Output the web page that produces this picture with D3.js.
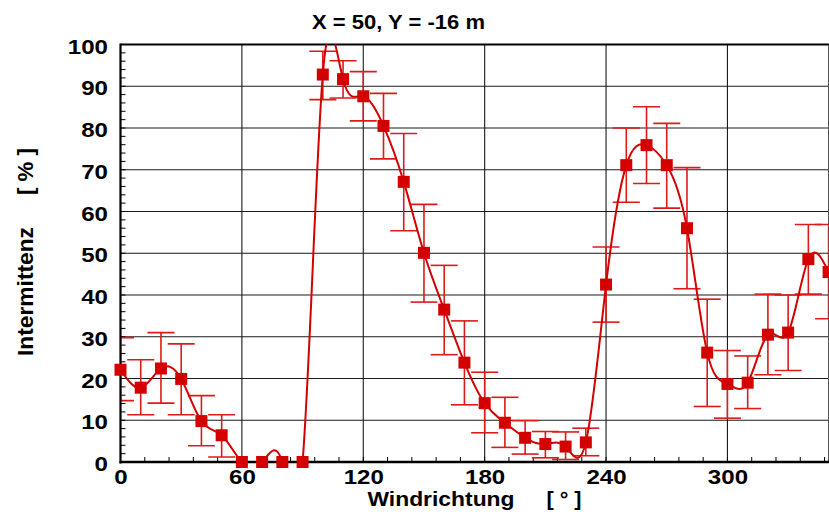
<!DOCTYPE html>
<html><head><meta charset="utf-8">
<script src="https://cdn.jsdelivr.net/npm/d3@7"></script>
<style>
body{margin:0;background:#fff}
svg{display:block;font-family:"Liberation Sans",Arial,Helvetica,sans-serif;font-weight:bold}
</style>
</head><body>
<svg id="chart" width="829" height="515"></svg>
<script>
// ---------- data ----------
const directions = [0,10,20,30,40,50,60,70,80,90,100,110,120,130,140,150,160,170,180,190,200,210,220,230,240,250,260,270,280,290,300,310,320,330,340,350];
const intermittency = [22.1,17.8,22.4,19.9,9.8,6.4,0,0,0,0,92.8,91.7,87.6,80.5,67.1,50.1,36.5,23.8,14.1,9.4,5.8,4.3,3.7,4.7,42.5,71.1,75.9,71.1,56.0,26.2,18.7,19.0,30.5,31.0,48.6,45.5];
const errUpper = [29.8,24.5,31.0,28.3,15.9,11.3,null,null,null,null,98.4,96.1,93.5,88.3,78.7,61.7,47.1,33.8,21.5,15.5,9.9,7.3,7.2,8.1,51.5,80.0,85.1,81.1,70.5,39.0,26.7,25.4,40.2,40.0,56.9,56.9];
const errLower = [14.7,11.3,14.1,11.3,3.9,1.2,null,null,null,null,86.8,87.2,81.7,72.6,55.4,38.3,25.7,13.7,7.0,3.5,1.9,1.0,0.6,1.5,33.5,62.2,66.7,60.8,41.5,13.3,10.5,12.8,20.9,21.9,40.2,34.3];
const xTicks = [0,60,120,180,240,300];
const yTicks = [0,10,20,30,40,50,60,70,80,90,100];
const titleText = "X = 50, Y = -16 m";
const xLabel = "Windrichtung";
const xUnit = "[ ° ]";
const yLabel = "Intermittenz";
const yUnit = "[ % ]";

// ---------- layout ----------
const L = 120.5, R = 828.6, T = 44.5, B = 462;
const x = d3.scaleLinear().domain([0,350]).range([L,R]);
const y = d3.scaleLinear().domain([0,100]).range([B,T]);
const svg = d3.select("#chart");
const red = "#d40000";
const errRed = "#dc1a1a";

svg.append("defs").append("clipPath").attr("id","plotClip")
  .append("rect").attr("x",L).attr("y",T).attr("width",R-L).attr("height",B-T);

// grid
const grid = svg.append("g");
grid.selectAll("line.h").data(yTicks.filter(v=>v>0&&v<100)).join("line")
  .attr("x1",L).attr("x2",R).attr("y1",d=>y(d)).attr("y2",d=>y(d))
  .attr("stroke","#1a1a1a").attr("stroke-width",1.1);
grid.selectAll("line.v").data(xTicks.filter(v=>v>0)).join("line")
  .attr("y1",T).attr("y2",B).attr("x1",d=>x(d)).attr("x2",d=>x(d))
  .attr("stroke","#1a1a1a").attr("stroke-width",1.1);

// minor ticks
const yMinor = d3.range(0,100.01,2);
svg.append("g").selectAll("line").data(yMinor).join("line")
  .attr("x1",L).attr("x2",L+5).attr("y1",d=>y(d)).attr("y2",d=>y(d))
  .attr("stroke","#000").attr("stroke-width",1);
const xMinor = d3.range(0,350,12);
svg.append("g").selectAll("line").data(xMinor).join("line")
  .attr("x1",d=>x(d)).attr("x2",d=>x(d)).attr("y1",B).attr("y2",B-5)
  .attr("stroke","#000").attr("stroke-width",1);

// frame
svg.append("line").attr("x1",L).attr("x2",R+1).attr("y1",T).attr("y2",T).attr("stroke","#000").attr("stroke-width",2);
svg.append("line").attr("x1",R).attr("x2",R).attr("y1",T).attr("y2",B).attr("stroke","#444").attr("stroke-width",1);

const pts = directions.map((d,i)=>({d, v:intermittency[i], hi:errUpper[i], lo:errLower[i]}));

// error bars (clipped)
const eb = svg.append("g").attr("clip-path","url(#plotClip)");
const ebData = pts.filter(p=>p.hi!==null);
eb.selectAll("line.stem").data(ebData).join("line")
  .attr("x1",p=>x(p.d)).attr("x2",p=>x(p.d)).attr("y1",p=>y(p.hi)).attr("y2",p=>y(p.lo))
  .attr("stroke",errRed).attr("stroke-width",1.6);
eb.selectAll("line.capHi").data(ebData).join("line")
  .attr("x1",p=>x(p.d)-13.5).attr("x2",p=>x(p.d)+13.5).attr("y1",p=>y(p.hi)).attr("y2",p=>y(p.hi))
  .attr("stroke",errRed).attr("stroke-width",1.6);
eb.selectAll("line.capLo").data(ebData).join("line")
  .attr("x1",p=>x(p.d)-13.5).attr("x2",p=>x(p.d)+13.5).attr("y1",p=>y(p.lo)).attr("y2",p=>y(p.lo))
  .attr("stroke",errRed).attr("stroke-width",1.6);

// spline curve
const line = d3.line().x(p=>x(p.d)).y(p=>y(p.v)).curve(d3.curveNatural);
svg.append("g").attr("clip-path","url(#plotClip)").append("path")
  .attr("d",line(pts)).attr("fill","none").attr("stroke",red).attr("stroke-width",2);

// axes lines
svg.append("line").attr("x1",L).attr("x2",L).attr("y1",T-1).attr("y2",B+1.5).attr("stroke","#000").attr("stroke-width",2.2);
svg.append("line").attr("x1",L-1).attr("x2",R+1).attr("y1",B).attr("y2",B).attr("stroke","#000").attr("stroke-width",2.6);

// markers
svg.append("g").selectAll("rect").data(pts).join("rect")
  .attr("x",p=>x(p.d)-6).attr("y",p=>y(p.v)-6).attr("width",12).attr("height",12)
  .attr("fill",red);

// tick labels
const yAxis = svg.append("g").attr("transform",`translate(${L-12.5},0)`)
  .call(d3.axisLeft(y).tickValues(yTicks).tickSize(0).tickPadding(0).tickFormat(d3.format("d")));
yAxis.select(".domain").remove();
yAxis.selectAll("text").attr("font-size",19.5).attr("font-family","Liberation Sans, Arial, sans-serif")
  .attr("font-weight","bold").attr("fill","#000").attr("dy",null).attr("y",8.6)
  .attr("textLength",function(d){return String(d).length*13.4;}).attr("lengthAdjust","spacingAndGlyphs");

const xAxis = svg.append("g").attr("transform",`translate(0,${B})`)
  .call(d3.axisBottom(x).tickValues(xTicks).tickSize(0).tickPadding(0).tickFormat(d3.format("d")));
xAxis.select(".domain").remove();
xAxis.selectAll("text").attr("font-size",19.5).attr("font-family","Liberation Sans, Arial, sans-serif")
  .attr("font-weight","bold").attr("fill","#000").attr("dy",null).attr("y",21.6)
  .attr("textLength",function(d){return String(d).length*13.4;}).attr("lengthAdjust","spacingAndGlyphs");

// title
svg.append("text").attr("x",398.5).attr("y",28.5).attr("text-anchor","middle")
  .attr("font-size",19.5).attr("textLength",173).attr("lengthAdjust","spacingAndGlyphs").text(titleText);

// x label
svg.append("text").attr("x",367.5).attr("y",505.8).attr("font-size",20)
  .attr("textLength",147).attr("lengthAdjust","spacingAndGlyphs").text(xLabel);
svg.append("text").attr("x",546.5).attr("y",505.8).attr("font-size",20)
  .attr("textLength",35).attr("lengthAdjust","spacingAndGlyphs").text(xUnit);

// y label
svg.append("text").attr("transform","translate(32.5,356) rotate(-90)").attr("font-size",22)
  .attr("textLength",129).attr("lengthAdjust","spacingAndGlyphs").text(yLabel);
svg.append("text").attr("transform","translate(32.5,195) rotate(-90)").attr("font-size",22)
  .attr("textLength",47).attr("lengthAdjust","spacingAndGlyphs").text(yUnit);
</script>
</body></html>
